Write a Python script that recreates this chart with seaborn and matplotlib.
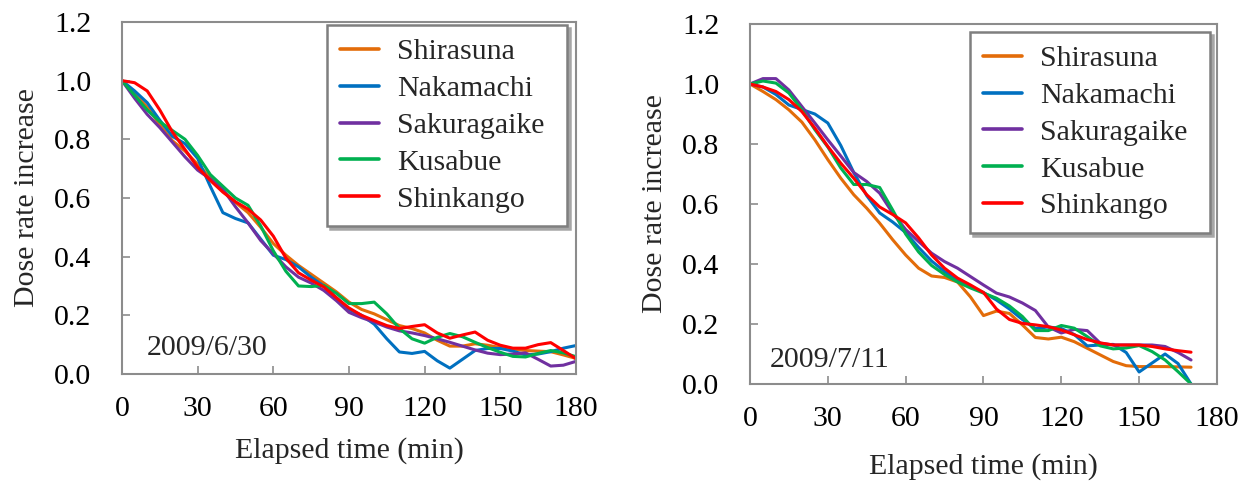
import numpy as np
import pandas as pd
import matplotlib
matplotlib.use("Agg")
import matplotlib.pyplot as plt
from matplotlib.lines import Line2D
import seaborn as sns

# ---- data: dose rate increase (normalised) vs elapsed time ----
sites = ["Shirasuna", "Nakamachi", "Sakuragaike", "Kusabue", "Shinkango"]
site_colors = ["#E36C09", "#0070C0", "#7030A0", "#00B050", "#FF0000"]

# 2009/6/30, every 5 min from 0 to 180
time_0630 = list(range(0, 181, 5))
shirasuna_0630 = [1.0, 0.955, 0.91, 0.85, 0.795, 0.76, 0.715, 0.67, 0.625, 0.585, 0.55, 0.50, 0.445,
                  0.405, 0.37, 0.34, 0.31, 0.28, 0.245, 0.22, 0.205, 0.185, 0.165, 0.155, 0.14, 0.115,
                  0.095, 0.095, 0.103, 0.098, 0.09, 0.085, 0.08, 0.078, 0.076, 0.065, 0.053]
nakamachi_0630 = [1.0, 0.965, 0.925, 0.865, 0.81, 0.785, 0.735, 0.64, 0.55, 0.53, 0.515, 0.46, 0.405,
                  0.39, 0.365, 0.33, 0.30, 0.26, 0.22, 0.20, 0.17, 0.12, 0.075, 0.07, 0.077, 0.045,
                  0.02, 0.05, 0.08, 0.087, 0.087, 0.078, 0.065, 0.068, 0.076, 0.088, 0.097]
sakuragaike_0630 = [1.0, 0.94, 0.885, 0.84, 0.79, 0.74, 0.695, 0.665, 0.63, 0.57, 0.515, 0.455, 0.41,
                    0.365, 0.33, 0.31, 0.285, 0.25, 0.21, 0.192, 0.177, 0.16, 0.147, 0.14, 0.131, 0.12,
                    0.108, 0.095, 0.082, 0.071, 0.066, 0.068, 0.072, 0.05, 0.027, 0.03, 0.043]
kusabue_0630 = [1.0, 0.95, 0.90, 0.86, 0.83, 0.80, 0.745, 0.68, 0.64, 0.60, 0.575, 0.505, 0.42,
                0.35, 0.30, 0.298, 0.302, 0.275, 0.24, 0.24, 0.245, 0.205, 0.155, 0.12, 0.105, 0.125,
                0.138, 0.127, 0.108, 0.09, 0.074, 0.06, 0.058, 0.07, 0.08, 0.072, 0.059]
shinkango_0630 = [1.0, 0.993, 0.965, 0.90, 0.825, 0.765, 0.705, 0.66, 0.62, 0.587, 0.562, 0.525, 0.47,
                  0.395, 0.345, 0.32, 0.297, 0.26, 0.225, 0.20, 0.182, 0.165, 0.155, 0.162, 0.168, 0.14,
                  0.122, 0.133, 0.143, 0.115, 0.098, 0.088, 0.088, 0.10, 0.107, 0.08, 0.052]

# 2009/7/11, every 5 min from 0 to 170
time_0711 = list(range(0, 171, 5))
shirasuna_0711 = [1.0, 0.975, 0.948, 0.914, 0.873, 0.814, 0.748, 0.686, 0.631, 0.586, 0.536, 0.481,
                  0.43, 0.386, 0.36, 0.355, 0.34, 0.29, 0.228, 0.243, 0.235, 0.197, 0.155, 0.15,
                  0.156, 0.141, 0.119, 0.097, 0.075, 0.061, 0.058, 0.058, 0.058, 0.057, 0.056]
nakamachi_0711 = [1.0, 0.99, 0.965, 0.93, 0.915, 0.90, 0.87, 0.795, 0.705, 0.628, 0.57, 0.54,
                  0.505, 0.455, 0.41, 0.375, 0.347, 0.325, 0.305, 0.28, 0.25, 0.215, 0.185, 0.19,
                  0.185, 0.165, 0.127, 0.13, 0.132, 0.105, 0.04, 0.07, 0.10, 0.068, 0.0]
sakuragaike_0711 = [1.0, 1.018, 1.018, 0.98, 0.925, 0.87, 0.814, 0.76, 0.705, 0.675, 0.636, 0.57,
                    0.515, 0.475, 0.436, 0.408, 0.386, 0.358, 0.33, 0.303, 0.29, 0.27, 0.245, 0.19,
                    0.17, 0.182, 0.178, 0.136, 0.13, 0.13, 0.13, 0.13, 0.125, 0.105, 0.08]
kusabue_0711 = [1.0, 1.01, 1.003, 0.97, 0.914, 0.848, 0.79, 0.72, 0.665, 0.665, 0.655, 0.58,
                0.50, 0.44, 0.395, 0.365, 0.34, 0.32, 0.303, 0.286, 0.26, 0.225, 0.178, 0.178,
                0.195, 0.186, 0.158, 0.127, 0.117, 0.12, 0.128, 0.108, 0.08, 0.041, 0.0]
shinkango_0711 = [1.0, 0.99, 0.975, 0.948, 0.908, 0.853, 0.792, 0.736, 0.686, 0.631, 0.59, 0.565,
                  0.537, 0.487, 0.43, 0.386, 0.353, 0.33, 0.305, 0.25, 0.215, 0.202, 0.197, 0.191,
                  0.18, 0.164, 0.148, 0.137, 0.13, 0.13, 0.13, 0.125, 0.117, 0.111, 0.106]

panels = [
    ("2009/6/30", time_0630,
     [shirasuna_0630, nakamachi_0630, sakuragaike_0630, kusabue_0630, shinkango_0630]),
    ("2009/7/11", time_0711,
     [shirasuna_0711, nakamachi_0711, sakuragaike_0711, kusabue_0711, shinkango_0711]),
]

x_ticks = [0, 30, 60, 90, 120, 150, 180]
y_ticks = [0.0, 0.2, 0.4, 0.6, 0.8, 1.0, 1.2]

# ---- styling ----
sns.set_theme(style="white")
plt.rcParams["font.family"] = ["Liberation Serif", "DejaVu Serif"]
FS = 21.5
SPINE = "#8c8c8c"
palette = dict(zip(sites, site_colors))

fig = plt.figure(figsize=(12.51, 4.83), dpi=100)
axes_rects = [
    [0.0975, 0.2257, 0.3629, 0.7288],
    [0.5995, 0.2050, 0.3733, 0.7453],
]
legend_boxes = [
    (0.4515, 0.991, 0.5285),
    (0.471, 0.978, 0.514),
]
date_pos = [(0.055, 0.075), (0.043, 0.066)]
xlabel_pads = [11, 15]

for (date, times, series), rect, (lx, ly, lw), (dx, dy), xlp in zip(
        panels, axes_rects, legend_boxes, date_pos, xlabel_pads):
    ax = fig.add_axes(rect)
    df = pd.concat(
        [pd.DataFrame({"time": times, "value": vals, "site": name})
         for name, vals in zip(sites, series)],
        ignore_index=True,
    )
    sns.lineplot(data=df, x="time", y="value", hue="site", hue_order=sites,
                 palette=palette, linewidth=2.2, sort=False, legend=False, ax=ax,
                 solid_joinstyle="round", solid_capstyle="round")

    ax.set_xlim(0, 180)
    ax.set_ylim(0, 1.2)
    ax.set_xticks(x_ticks)
    ax.set_yticks(y_ticks)
    ax.set_xticklabels([str(v) for v in x_ticks])
    ax.set_yticklabels([f"{v:.1f}" for v in y_ticks])
    ax.tick_params(axis="both", direction="in", length=6, width=1.2, color=SPINE,
                   labelsize=FS, labelcolor="black")
    ax.tick_params(axis="y", pad=22, left=True)
    ax.tick_params(axis="x", pad=16, bottom=True)
    for sp in ax.spines.values():
        sp.set_visible(True)
        sp.set_color(SPINE)
        sp.set_linewidth(1.5)
    ax.grid(False)

    ax.set_xlabel("Elapsed time (min)", fontsize=FS, labelpad=xlp)
    ax.set_ylabel("Dose rate increase", fontsize=FS, labelpad=10)

    ax.text(dx, dy, date, transform=ax.transAxes, fontsize=FS, ha="left", va="center")

    handles = [Line2D([], [], color=c, linewidth=2.6) for c in site_colors]
    leg = ax.legend(handles, sites, loc="upper left", bbox_to_anchor=(lx, ly, lw, 0.0),
                    mode="expand", borderaxespad=0.0, fontsize=FS, frameon=True,
                    fancybox=False, shadow={"color": "#a6a6a6", "alpha": 1.0},
                    handlelength=1.3, handletextpad=0.6, labelspacing=0.33,
                    borderpad=0.45)
    frame = leg.get_frame()
    frame.set_edgecolor("#7f7f7f")
    frame.set_linewidth(1.8)
    frame.set_facecolor("white")
    frame.set_alpha(1.0)

fig.savefig("out.png", dpi=100)
